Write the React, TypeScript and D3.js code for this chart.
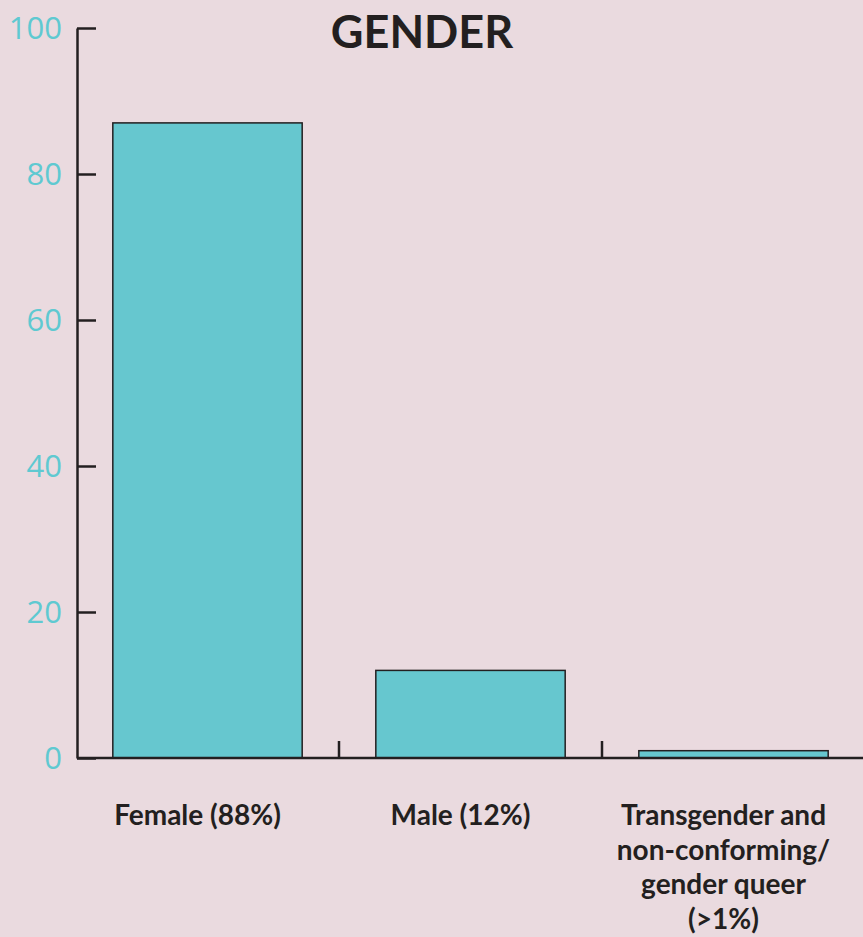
import React, { useEffect, useRef } from "react";
import * as d3 from "d3";

const categories = ["Female", "Male", "Transgender"];
const values = [87, 12, 1];
const labels = [
  ["Female (88%)"],
  ["Male (12%)"],
  ["Transgender and", "non-conforming/", "gender queer", "(>1%)"],
];
const yTicks = [0, 20, 40, 60, 80, 100];

const W = 863;
const H = 937;
const ink = "#231f20";
const teal = "#66c7cf";

const App = () => {
  const yAxisRef = useRef(null);

  const x = d3
    .scaleBand()
    .domain(categories)
    .range([76, 865])
    .paddingInner(0.28)
    .paddingOuter(0.14);

  const y = d3.scaleLinear().domain([0, 100]).range([758, 28]);

  useEffect(() => {
    const g = d3.select(yAxisRef.current);
    g.call(
      d3
        .axisLeft(y)
        .tickValues(yTicks)
        .tickSizeInner(-19)
        .tickSizeOuter(0)
        .tickPadding(15)
    );
    g.select(".domain").attr("stroke", ink).attr("stroke-width", 2.5);
    g.selectAll(".tick line").attr("stroke", ink).attr("stroke-width", 2.5);
    g.selectAll(".tick text")
      .attr("fill", "#5fc9d1")
      .attr("font-size", 31)
      .attr("font-family", "'Open Sans', sans-serif")
      .attr("dy", "0.35em");
  }, []);

  const step = x.step();
  const gap = (step * 0.28) / 2;

  return (
    <svg
      width={W}
      height={H}
      style={{ position: "absolute", left: 0, top: 0, background: "#eadadf" }}
    >
      <text
        x={422}
        y={48}
        textAnchor="middle"
        fontSize={45}
        fontWeight="bold"
        fontFamily="Lato, sans-serif"
        fill={ink}
      >
        GENDER
      </text>

      {categories.map((c, i) => (
        <rect
          key={c}
          x={x(c)}
          y={y(values[i])}
          width={x.bandwidth()}
          height={y(0) - y(values[i])}
          fill={teal}
          stroke={ink}
          strokeWidth={1.5}
        />
      ))}

      <g ref={yAxisRef} transform="translate(77,0)" />

      <line x1={77} x2={W} y1={y(0)} y2={y(0)} stroke={ink} strokeWidth={2.5} />
      {categories.slice(1).map((c) => (
        <line
          key={c}
          x1={x(c) - gap}
          x2={x(c) - gap}
          y1={y(0)}
          y2={y(0) - 17}
          stroke={ink}
          strokeWidth={2.5}
        />
      ))}

      {categories.map((c, i) => (
        <text
          key={c}
          y={825}
          textAnchor="middle"
          fontSize={28}
          fontWeight="bold"
          fontFamily="Lato, sans-serif"
          fill={ink}
        >
          {labels[i].map((l, j) => (
            <tspan key={j} x={x(c) + x.bandwidth() / 2 - 10} dy={j === 0 ? 0 : 34.5}>
              {l}
            </tspan>
          ))}
        </text>
      ))}
    </svg>
  );
};

export default App;
